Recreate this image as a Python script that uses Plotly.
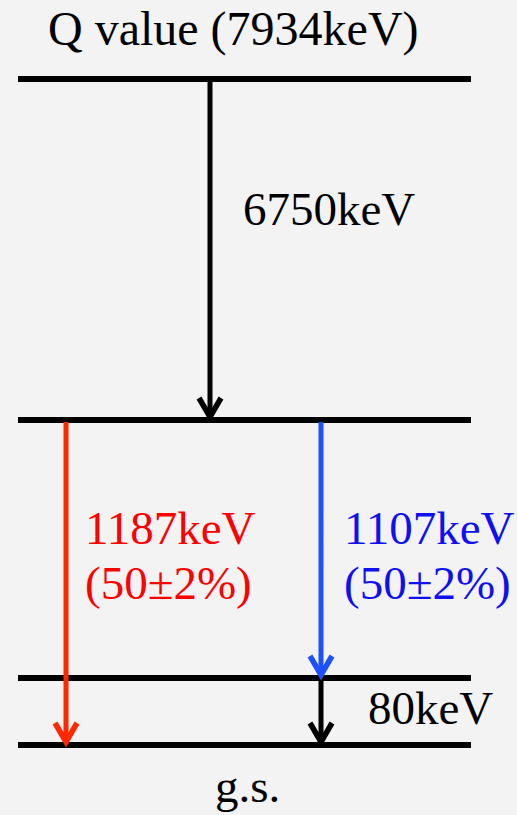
import plotly.graph_objects as go

# ---- data ----
top_label = "Q value (7934keV)"
bottom_label = "g.s."
transition_energies = ["6750keV", "1187keV", "1107keV", "80keV"]
transition_ratios = ["", "(50±2%)", "(50±2%)", ""]
transition_colors = ["black", "rgb(255,40,0)", "rgb(30,80,255)", "black"]
text_colors = ["black", "rgb(255,0,0)", "rgb(15,15,245)", "black"]

# ---- layout geometry (pixels) ----
W, H = 517, 815
level_y = [79, 420, 678, 745]
level_x0, level_x1 = 18, 471
# transitions: (x, from level idx, to level idx)
trans_geo = [(210, 0, 1), (66, 1, 3), (321, 1, 2), (321, 2, 3)]
label_pos = [(241, 209), (83, 528), (342, 528), (366, 708)]
ratio_dy = 55

fig = go.Figure()

for y in level_y:
    fig.add_trace(go.Scatter(x=[level_x0, level_x1], y=[y, y], mode="lines",
                             line=dict(color="black", width=6), hoverinfo="skip",
                             showlegend=False))

for (x, a, b), col in zip(trans_geo, transition_colors):
    y0 = level_y[a] + 2
    y1 = level_y[b] - 3
    fig.add_trace(go.Scatter(x=[x, x], y=[y0, y1], mode="lines",
                             line=dict(color=col, width=5), hoverinfo="skip",
                             showlegend=False))
    fig.add_trace(go.Scatter(x=[x - 11, x, x + 11], y=[y1 - 19, y1, y1 - 19], mode="lines",
                             line=dict(color=col, width=5.5), hoverinfo="skip",
                             showlegend=False))

font_family = "Liberation Serif, Times New Roman, serif"
FS = 47
annotations = []
annotations.append(dict(x=233, y=29, text=top_label, showarrow=False,
                        xanchor="center", yanchor="middle",
                        font=dict(family=font_family, size=48, color="black")))
annotations.append(dict(x=247, y=786, text=bottom_label, showarrow=False,
                        xanchor="center", yanchor="middle",
                        font=dict(family=font_family, size=FS, color="black")))
for lab, rat, (x, y), col in zip(transition_energies, transition_ratios, label_pos, text_colors):
    annotations.append(dict(x=x, y=y, text=lab, showarrow=False, xanchor="left",
                            yanchor="middle", align="left",
                            font=dict(family=font_family, size=FS, color=col)))
    if rat:
        annotations.append(dict(x=x, y=y + ratio_dy, text=rat, showarrow=False,
                                xanchor="left", yanchor="middle", align="left",
                                font=dict(family=font_family, size=FS, color=col)))

fig.update_layout(
    width=W, height=H,
    margin=dict(l=0, r=0, t=0, b=0),
    paper_bgcolor="#f3f3f3", plot_bgcolor="#f3f3f3",
    xaxis=dict(range=[0, W], visible=False, fixedrange=True),
    yaxis=dict(range=[H, 0], visible=False, fixedrange=True),
    annotations=annotations,
    showlegend=False,
)
fig.write_html("out.html")
